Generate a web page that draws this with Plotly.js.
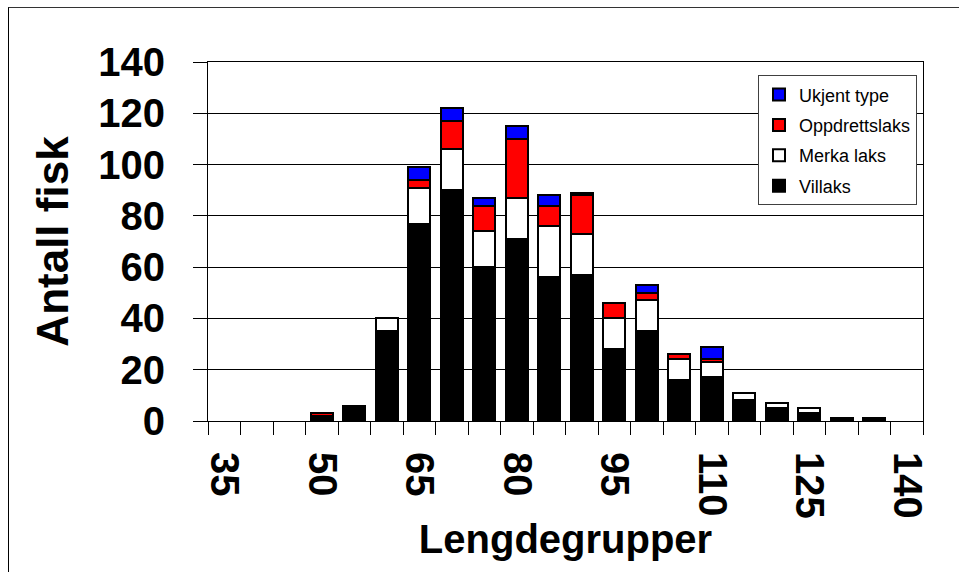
<!DOCTYPE html>
<html>
<head>
<meta charset="utf-8">
<script src="https://cdn.plot.ly/plotly-3.0.1.min.js"></script>
<style>
  html, body { margin: 0; padding: 0; background: #fff; }
  #wrap { position: relative; width: 959px; height: 572px; overflow: hidden; }
  #chart { position: absolute; left: 0; top: 0; width: 959px; height: 572px; }
  #frame { position: absolute; left: 8px; top: 7px; width: 1000px; height: 600px;
           border-left: 1px solid #000; border-top: 1px solid #333; pointer-events: none; }
</style>
</head>
<body>
<div id="wrap">
  <div id="chart"></div>
  <div id="frame"></div>
</div>
<script>
// Length groups (cm)
const lengthGroups = [35, 40, 45, 50, 55, 60, 65, 70, 75, 80, 85, 90, 95, 100, 105, 110, 115, 120, 125, 130, 135, 140];
// Counts per series (stacked bottom to top)
const villaks      = [0, 0, 0, 2, 6, 35, 77, 90, 60, 71, 56, 57, 28, 35, 16, 17, 8, 5, 3, 1, 1, 0];
const merkaLaks    = [0, 0, 0, 0, 0, 5, 14, 16, 14, 16, 20, 16, 12, 12, 8, 6, 3, 2, 2, 0, 0, 0];
const oppdrettslaks= [0, 0, 0, 1, 0, 0, 3, 11, 10, 23, 8, 15, 6, 3, 2, 1, 0, 0, 0, 0, 0, 0];
const ukjentType   = [0, 0, 0, 0, 0, 0, 5, 5, 3, 5, 4, 1, 0, 3, 0, 5, 0, 0, 0, 0, 0, 0];

const seriesNames = ['Villaks', 'Merka laks', 'Oppdrettslaks', 'Ukjent type'];
const seriesColors = ['#000000', '#FFFFFF', '#FF0000', '#0000FF'];
const seriesValues = [villaks, merkaLaks, oppdrettslaks, ukjentType];

const FONT = '"Liberation Sans", Arial, Helvetica, sans-serif';

const traces = seriesValues.map((vals, i) => ({
  type: 'bar',
  name: seriesNames[i],
  legendgroup: 'g' + i,
  legendrank: seriesValues.length - i,
  x: lengthGroups,
  // empty groups carry no bar (avoid drawing outline stubs on the axis)
  y: vals.map(v => (v === 0 ? null : v)),
  marker: { color: seriesColors[i], line: { color: '#000000', width: 2 } },
  hoverinfo: 'x+y+name'
}));

const layout = {
  width: 959,
  height: 572,
  margin: { l: 208, r: 36, t: 62, b: 151, pad: 0 },
  paper_bgcolor: '#ffffff',
  plot_bgcolor: '#ffffff',
  barmode: 'stack',
  bargap: 0.31,
  font: { family: FONT, color: '#000000' },
  showlegend: true,
  legend: {
    traceorder: 'grouped',
    tracegroupgap: 4,
    x: 0.9916, xanchor: 'right',
    y: 0.963, yanchor: 'top',
    bgcolor: '#ffffff',
    bordercolor: '#404040',
    borderwidth: 1,
    font: { family: FONT, size: 18, color: '#000000' }
  },
  xaxis: {
    type: 'linear',
    range: [32.5, 142.5],
    tickmode: 'linear',
    tick0: 35,
    dtick: 15,
    ticks: '',
    tickangle: 90,
    ticklabelstandoff: 22,
    tickfont: { family: FONT, size: 40, color: '#000000', weight: 'bold' },
    showgrid: false,
    zeroline: false,
    showline: true,
    linecolor: '#000000',
    linewidth: 1,
    mirror: true,
    minor: { ticks: 'outside', ticklen: 13, tickwidth: 1, tickcolor: '#000000', tick0: 32.5, dtick: 5, showgrid: false },
    title: { text: 'Lengdegrupper', standoff: 0, font: { family: FONT, size: 40, color: '#000000', weight: 'bold' } },
    fixedrange: true
  },
  yaxis: {
    range: [0, 140],
    tickmode: 'linear',
    tick0: 0,
    dtick: 20,
    ticks: 'outside',
    ticklen: 14,
    tickwidth: 1,
    tickcolor: '#000000',
    ticklabelstandoff: 20,
    tickfont: { family: FONT, size: 40, color: '#000000', weight: 'bold' },
    showgrid: true,
    gridcolor: '#000000',
    gridwidth: 1,
    zeroline: false,
    showline: true,
    linecolor: '#000000',
    linewidth: 1,
    mirror: true,
    title: { text: 'Antall fisk', standoff: 15, font: { family: FONT, size: 44, color: '#000000', weight: 'bold' } },
    fixedrange: true
  }
};

Plotly.newPlot('chart', traces, layout, { displayModeBar: false, staticPlot: true });
</script>
</body>
</html>
